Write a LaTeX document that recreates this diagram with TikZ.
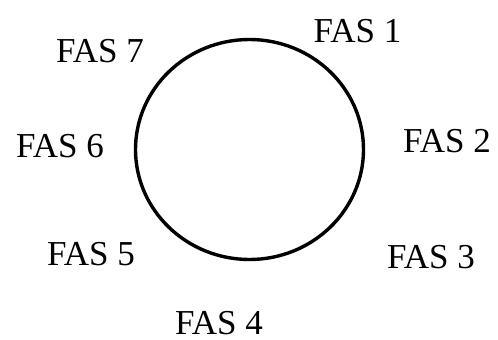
\documentclass[tikz,border=0pt]{standalone}
\usepackage{fontspec}
\setmainfont{Liberation Serif}
\begin{document}
\begin{tikzpicture}[x=1pt,y=-1pt,
  lbl/.style={anchor=base,inner sep=0pt,text depth=0pt,font=\fontsize{35}{40}\selectfont}]
\useasboundingbox (0,0) rectangle (498,340);
\draw[line width=3.4pt] (249.5,149.5) ellipse [x radius=114, y radius=110];
\node[lbl] (f1) at (357.5,42) {FAS 1};
\node[lbl] (f2) at (447,152) {FAS 2};
\node[lbl] (f3) at (431,268) {FAS 3};
\node[lbl] (f4) at (219,334) {FAS 4};
\node[lbl] (f5) at (91,265) {FAS 5};
\node[lbl] (f6) at (60,157) {FAS 6};
\node[lbl] (f7) at (100,62) {FAS 7};
\end{tikzpicture}
\end{document}
